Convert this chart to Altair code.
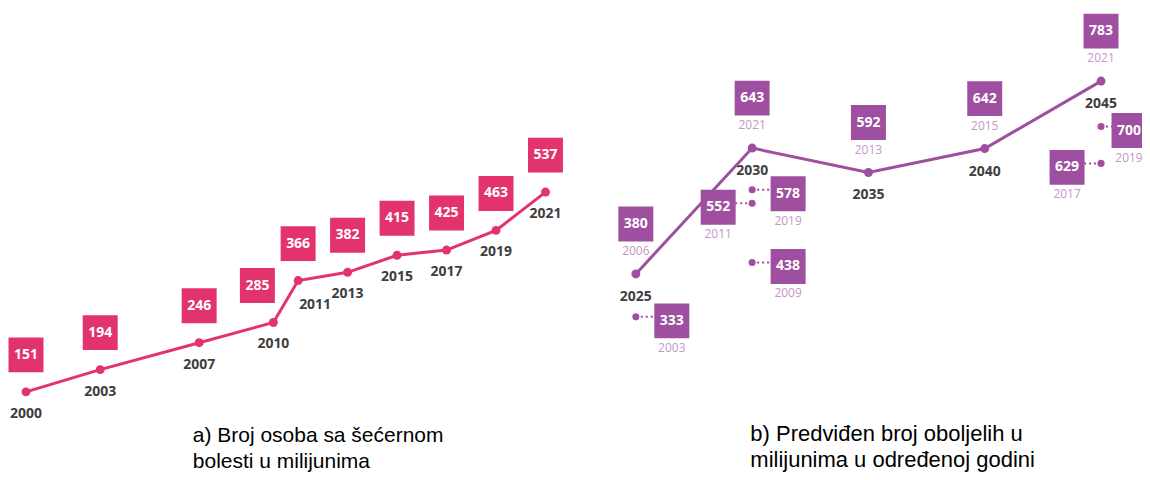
import altair as alt
import pandas as pd

# ---------------- data ----------------
# a) number of people with diabetes (millions)
years_a = [2000, 2003, 2007, 2010, 2011, 2013, 2015, 2017, 2019, 2021]
values_a = [151, 194, 246, 285, 366, 382, 415, 425, 463, 537]

# b) predicted number (target year, predicted value, year of prediction)
target_b = [2025, 2030, 2035, 2040, 2045]
values_b = [380, 643, 592, 642, 783]
made_b = [2006, 2021, 2013, 2015, 2021]

# b) additional (side) predictions
side_target = [2025, 2030, 2030, 2030, 2045, 2045]
side_values = [333, 578, 552, 438, 629, 700]
side_made = [2003, 2019, 2011, 2009, 2017, 2019]

caption_a = ["a) Broj osoba sa šećernom", "bolesti u milijunima"]
caption_b = ["b) Predviđen broj oboljelih u", "milijunima u određenoj godini"]

# ---------------- style ----------------
PINK = "#e3336c"
PURPLE = "#9e4f9f"
LIGHT = "#c795c7"
DARK = "#3e3e3e"
NUMFONT = "Open Sans"
CAPFONT = "Liberation Sans"

dfa = pd.DataFrame({"year": years_a, "value": values_a})
dfb = pd.DataFrame({"target": target_b, "value": values_b, "made": made_b})
dfs = pd.DataFrame({"target": side_target, "value": side_values, "made": side_made})

H = 416
WA = 575
WB = 549

# ---------------- panel a ----------------
xa = alt.X("year:Q", scale=alt.Scale(domain=[1999.313, 2022.536], nice=False, zero=False), axis=None)
ya = alt.Y("value:Q", scale=alt.Scale(domain=[89.2, 892.3], nice=False, zero=False), axis=None)
base_a = alt.Chart(dfa).encode(x=xa, y=ya)

a_line = base_a.mark_line(color=PINK, strokeWidth=3)
a_dots = base_a.mark_circle(color=PINK, size=80, opacity=1)
a_boxes = base_a.transform_filter("datum.year != 2010").mark_square(
    color=PINK, size=1225, opacity=1, yOffset=-37)
a_boxes2 = base_a.transform_filter("datum.year == 2010").mark_square(
    color=PINK, size=1225, opacity=1, yOffset=-37, xOffset=-16)
a_nums = base_a.transform_filter("datum.year != 2010").mark_text(
    color="white", font=NUMFONT, fontWeight="bold", fontSize=14, dy=-37).encode(text="value:Q")
a_nums2 = base_a.transform_filter("datum.year == 2010").mark_text(
    color="white", font=NUMFONT, fontWeight="bold", fontSize=14, dy=-37, dx=-16).encode(text="value:Q")
a_years = base_a.transform_filter("datum.year != 2011").mark_text(
    color=DARK, font=NUMFONT, fontWeight="bold", fontSize=14, dy=22).encode(
    text=alt.Text("year:Q", format="d"))
a_years2 = base_a.transform_filter("datum.year == 2011").mark_text(
    color=DARK, font=NUMFONT, fontWeight="bold", fontSize=14, dy=24, dx=17).encode(
    text=alt.Text("year:Q", format="d"))

panel_a = alt.layer(a_line, a_dots, a_boxes, a_boxes2, a_nums, a_nums2, a_years, a_years2).properties(
    width=WA, height=H,
    title=alt.TitleParams(text=caption_a, orient="bottom", anchor="start", frame="group",
                          dx=184, offset=1, font=CAPFONT, fontSize=21, fontWeight="normal",
                          color="black", lineHeight=26))

# ---------------- panel b ----------------
xb_scale = alt.Scale(domain=[2023.179, 2046.761], nice=False, zero=False)
xb = alt.X("target:Q", scale=xb_scale, axis=None)
yb = alt.Y("value:Q", scale=alt.Scale(domain=[66.8, 935.3], nice=False, zero=False), axis=None)
base_b = alt.Chart(dfb).encode(x=xb, y=yb)

b_line = base_b.mark_line(color=PURPLE, strokeWidth=3)
b_dots = base_b.mark_circle(color=PURPLE, size=80, opacity=1)
b_boxes = base_b.mark_square(color=PURPLE, size=1225, opacity=1, yOffset=-50)
b_nums = base_b.mark_text(color="white", font=NUMFONT, fontWeight="bold", fontSize=14, dy=-50).encode(
    text="value:Q")
b_made = base_b.mark_text(color=LIGHT, font=NUMFONT, fontSize=12, dy=-23).encode(
    text=alt.Text("made:Q", format="d"))
b_years = base_b.mark_text(color=DARK, font=NUMFONT, fontWeight="bold", fontSize=14, dy=23).encode(
    text=alt.Text("target:Q", format="d"))
main_b = alt.layer(b_line, b_dots, b_boxes, b_nums, b_made, b_years)

ys = alt.Y("value:Q", scale=alt.Scale(domain=[126.7, 928.3], nice=False, zero=False), axis=None)
base_s = alt.Chart(dfs).encode(x=xb, y=ys)
is_left = "datum.made == 2011 || datum.made == 2017"
is_edge = "datum.target == 2045 && datum.made == 2019"
is_right = "!(datum.made == 2011 || datum.made == 2017) && !(datum.target == 2045 && datum.made == 2019)"


def side_group(flt, off, clip=False):
    b = base_s.transform_filter(flt)
    conn = b.mark_rule(color=PURPLE, strokeWidth=2, strokeDash=[2, 3],
                       x2Offset=(off - 17 if off > 0 else off + 17)).encode(x2="target:Q")
    box = b.mark_square(color=PURPLE, size=1225, opacity=1, xOffset=off, yOffset=4, clip=clip)
    num = b.mark_text(color="white", font=NUMFONT, fontWeight="bold", fontSize=14,
                      dx=off, dy=4, clip=clip).encode(text="value:Q")
    made = b.mark_text(color=LIGHT, font=NUMFONT, fontSize=12, dx=off, dy=31,
                       clip=clip).encode(text=alt.Text("made:Q", format="d"))
    return [conn, box, num, made]


s_dots = base_s.mark_circle(color=PURPLE, size=50, opacity=1)
side_layers = side_group(is_right, 36) + side_group(is_left, -34) + side_group(is_edge, 28, clip=True)
side_b = alt.layer(s_dots, *side_layers)

panel_b = alt.layer(main_b, side_b).resolve_scale(y="independent").properties(
    width=WB, height=H,
    title=alt.TitleParams(text=caption_b, orient="bottom", anchor="start", frame="group",
                          dx=157, offset=0, font=CAPFONT, fontSize=22, fontWeight="normal",
                          color="black", lineHeight=26))

chart = alt.hconcat(panel_a, panel_b, spacing=10).properties(padding=0).configure_view(stroke=None)

chart.save("out.html", embed_options={"renderer": "svg", "actions": False})
